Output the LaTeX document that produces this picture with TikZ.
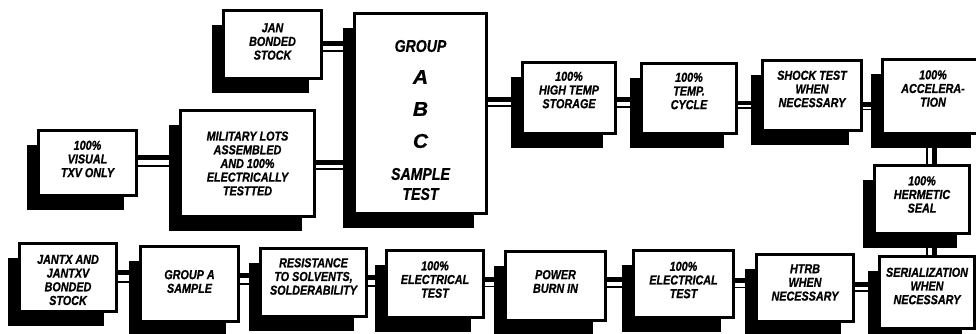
\documentclass[tikz,border=0pt]{standalone}
\usepackage{fontspec}
\newfontface\lbfont{Liberation Sans Bold Italic}[FakeStretch=0.83,FakeBold=0.8]
\newfontface\bigfont{Liberation Sans Bold Italic}[FakeStretch=1.05,FakeBold=0.8]
\usetikzlibrary{shadows,backgrounds}
\newcommand\mybox[7]{\node[box, minimum width=#3pt, minimum height=#4pt,
  label={[lbl,yshift=#5pt]center:{#7}}] (#1) at (#2) {};}
\newcommand\hconn[4]{\draw[conthick] (#1.east |- 0,#3) -- (#2.west |- 0,#3);
  \draw[conthin] (#1.east |- 0,#4) -- (#2.west |- 0,#4);}
\newcommand\vconn[4]{\draw[conthin] (#1.south -| #3,0) -- (#2.north -| #3,0);
  \draw[conthick] (#1.south -| #4,0) -- (#2.north -| #4,0);}
\begin{document}
\begin{tikzpicture}[x=1pt,y=-1pt,
  box/.style={draw=black, line width=3.2pt, fill=white, inner sep=0pt,
    drop shadow={shadow xshift=-12pt, shadow yshift=-14.5pt, opacity=1, fill=black}},
  lbl/.style={font=\lbfont\fontsize{13}{13.7}\selectfont, align=center, inner sep=0pt, text=black},
  conthick/.style={line width=4.8pt, black},
  conthin/.style={line width=1.5pt, black}]
\useasboundingbox (0,0) rectangle (976,333);
\begin{scope}[on background layer]
  \fill[white] (0,0) rectangle (976,333);
\end{scope}
\clip (0,0) rectangle (976,333);

% top-left group
\mybox{jan}{272.5,44.5}{97.8}{67.8}{3}{}{JAN\\BONDED\\STOCK}
\mybox{vis}{87.5,163}{97.8}{64.8}{4}{}{100\%\\VISUAL\\TXV ONLY}
\mybox{mil}{247.5,163.5}{133.8}{105.8}{0}{}{MILITARY LOTS\\ASSEMBLED\\AND 100\%\\ELECTRICALLY\\TESTTED}
\node[box, minimum width=131.8pt, minimum height=199.8pt,
  label={[lbl, yshift=-6.5pt, font=\lbfont\fontsize{17}{32}\selectfont]center:{GROUP\\{\bigfont\fontsize{20}{32}\selectfont A}\\{\bigfont\fontsize{20}{32}\selectfont B}\\{\bigfont\fontsize{20}{32}\selectfont C}\\SAMPLE\\[-12pt]TEST}}]
  (grp) at (420.5,113.5) {};

% top row
\mybox{hts}{569,98}{92.8}{70.8}{8}{}{100\%\\HIGH TEMP\\STORAGE}
\mybox{tcy}{689,98.5}{94.8}{69.8}{7.5}{}{100\%\\TEMP.\\CYCLE}
\mybox{shk}{812,95.5}{98.8}{69.8}{6.5}{}{SHOCK TEST\\WHEN\\NECESSARY}
\mybox{acc}{933,96.5}{100.8}{73.8}{8}{}{100\%\\ACCELERA-\\TION}
\mybox{her}{922,199.5}{94.8}{67.8}{5}{}{100\%\\HERMETIC\\SEAL}
\mybox{ser}{927,292.5}{94.8}{71.8}{6.5}{}{SERIALIZATION\\WHEN\\NECESSARY}

% bottom row
\mybox{jtx}{68,277.5}{96.8}{67.8}{-2.5}{}{JANTX AND\\JANTXV\\BONDED\\STOCK}
\mybox{gas}{189.5,284}{97.8}{74.8}{2.5}{}{GROUP A\\SAMPLE}
\mybox{res}{313.5,282.5}{105.8}{67.8}{6}{}{RESISTANCE\\TO SOLVENTS,\\SOLDERABILITY}
\mybox{elo}{435,284}{96.8}{66.8}{4.5}{}{100\%\\ELECTRICAL\\TEST}
\mybox{pbi}{555.5,286}{99.8}{68.8}{4.5}{}{POWER\\BURN IN}
\mybox{elt}{683.5,284}{99.8}{66.8}{4}{}{100\%\\ELECTRICAL\\TEST}
\mybox{htr}{805,288}{96.8}{66.8}{5.5}{}{HTRB\\WHEN\\NECESSARY}

\begin{scope}[on background layer]
  \hconn{vis}{mil}{157.5}{166}
  \hconn{mil}{grp}{162.5}{169}
  \hconn{jan}{grp}{43.2}{51}
  \hconn{grp}{hts}{99.2}{106}
  \hconn{hts}{tcy}{99.5}{107}
  \hconn{tcy}{shk}{103}{108}
  \hconn{shk}{acc}{104.2}{109.5}
  \vconn{acc}{her}{927}{934.2}
  \vconn{her}{ser}{927}{934.2}
  \hconn{jtx}{gas}{272.5}{282}
  \hconn{gas}{res}{275.5}{284}
  \hconn{res}{elo}{277.5}{286}
  \hconn{elo}{pbi}{279.2}{286.5}
  \hconn{pbi}{elt}{279.5}{287}
  \hconn{elt}{htr}{280.2}{287.5}
  \hconn{htr}{ser}{284.2}{291}
\end{scope}
\end{tikzpicture}
\end{document}
